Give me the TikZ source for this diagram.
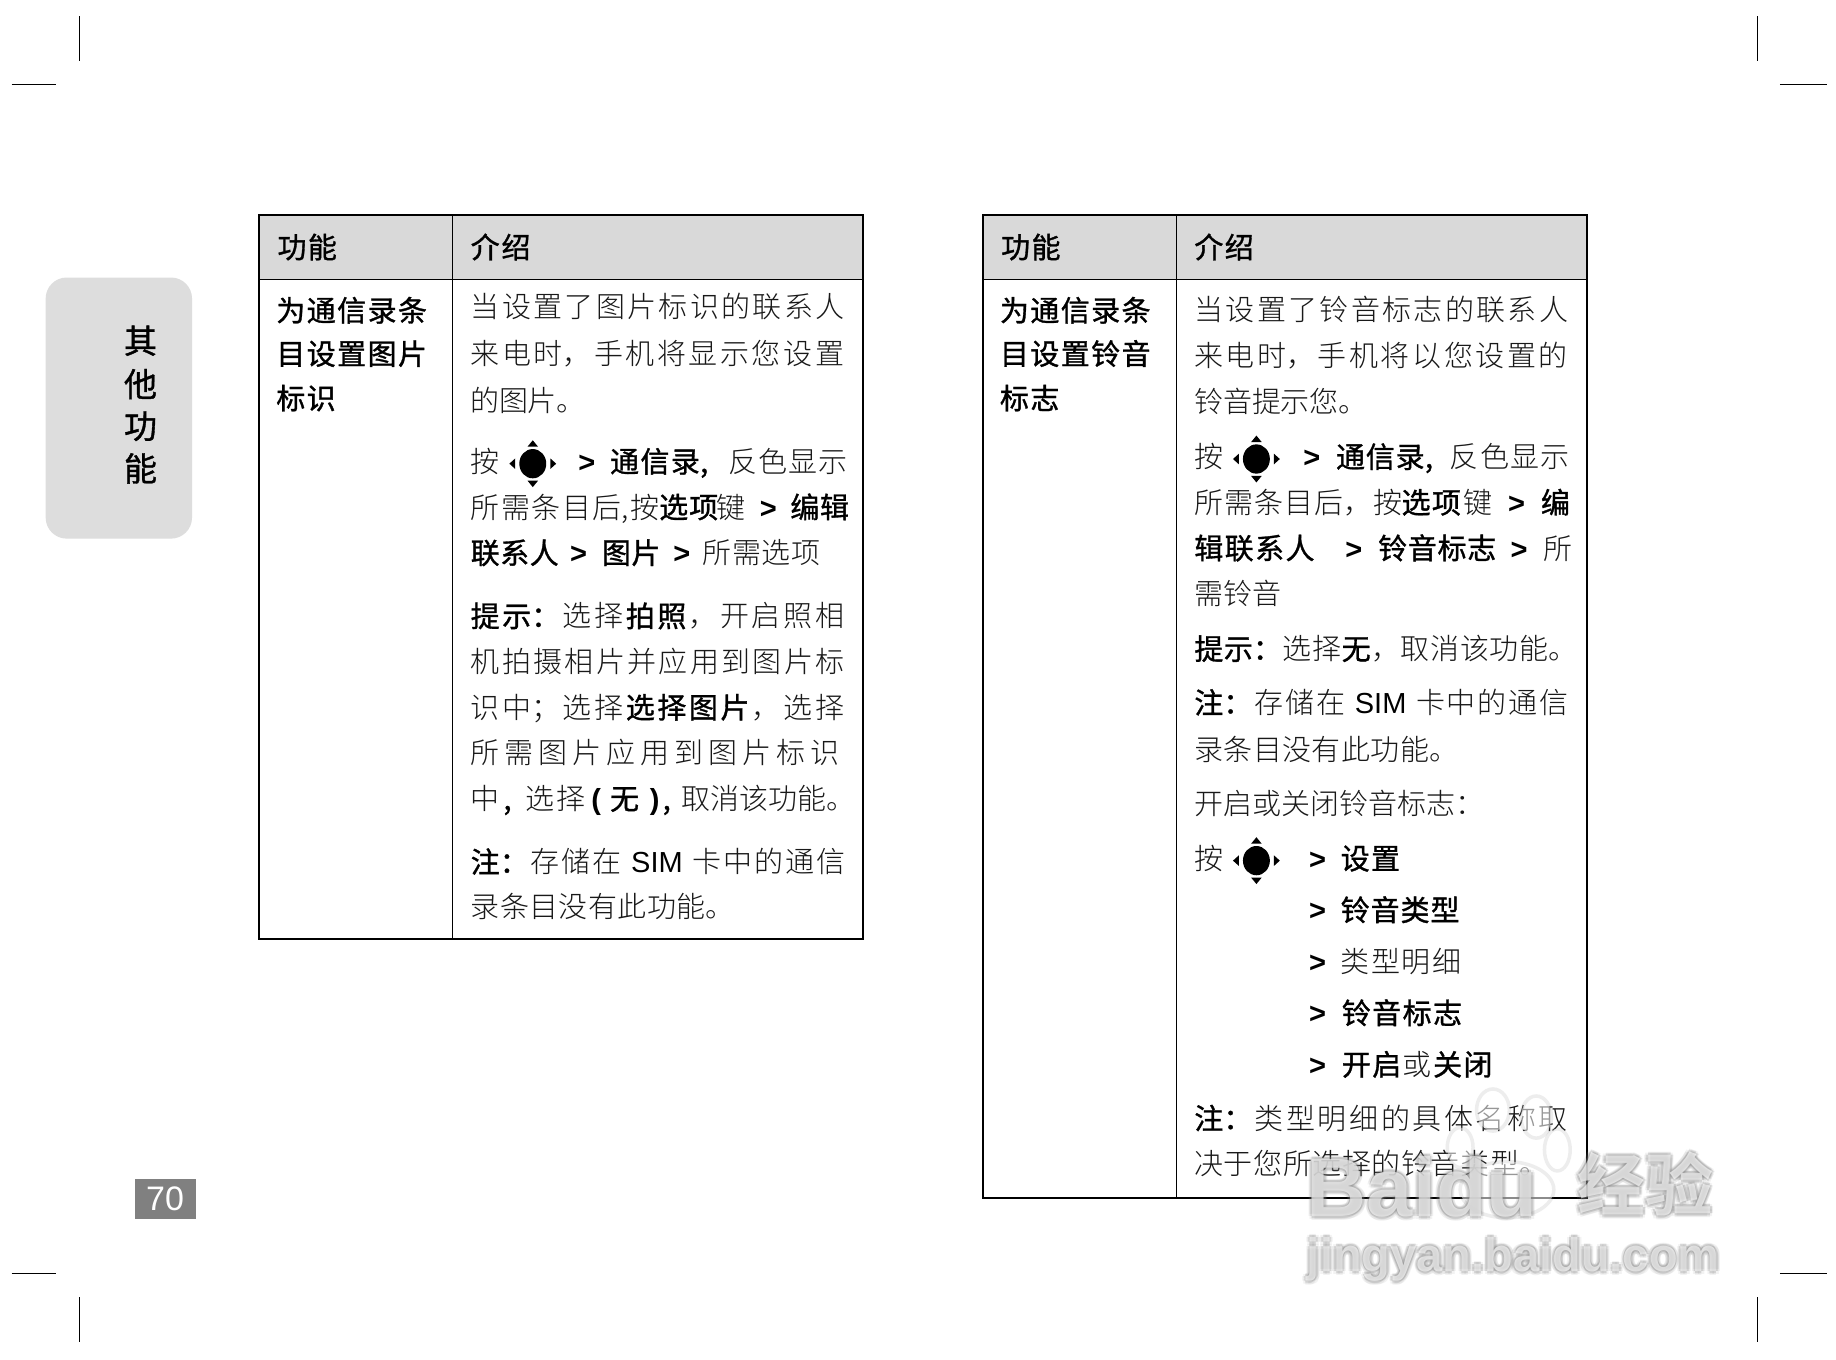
\documentclass[tikz,border=0pt]{standalone}
\usepackage{fontspec}
\setmainfont{Noto Sans CJK SC Light}[BoldFont={Noto Sans CJK SC},BoldFeatures={FakeBold=1.1}]
\newfontfamily\wmfont{Liberation Sans}[BoldFont={Liberation Sans Bold}]
\newfontfamily\wmcjk{Noto Sans CJK SC}[BoldFont={Noto Sans CJK SC Bold}]
\XeTeXlinebreaklocale "zh"
\XeTeXlinebreakskip=0pt plus 30pt minus 2pt
\hbadness=10000 \hfuzz=20pt
\newcounter{lnc}
\newcommand{\Bo}[1]{{\bfseries\color{black}#1}}
\newcommand{\Gt}{{\wmfont\bfseries\color{black}>}}
\newcommand{\Sm}[1]{{\wmfont\color{black}#1}}
\newcommand{\G}{\hskip 0pt plus 30pt minus 2pt\relax}
\definecolor{bodyc}{gray}{0.1}
\definecolor{headc}{gray}{0.85}
\definecolor{tabc}{gray}{0.865}
\tikzset{
  linetext/.style={inner sep=0pt,outer sep=0pt,anchor=base west,font=\fontsize{29}{33}\selectfont,text=bodyc},
  tline/.style={line width=2pt,draw=black},
  iline/.style={line width=1pt,draw=black},
  crop/.style={line width=1pt,draw=black},
  keytri/.style={fill=black,draw=none},
  wmouter/.style={inner sep=0pt,anchor=base west,text=black!50,text opacity=.10},
  wmshade/.style={inner sep=0pt,anchor=base west,text=black!50,text opacity=.20},
  wmtop/.style={inner sep=0pt,anchor=base west,text=white,text opacity=.62},
  pawo/.style={draw=black!50,draw opacity=.14,line width=3.5pt,fill=white,fill opacity=.55}
}
% x = left, y = centre of the line, x2 = right end, all in shown units
\newcommand{\LN}[4]{\stepcounter{lnc}\node[linetext,text width=\dimexpr(#3pt - #1pt + 3pt)*1171/1000\relax] (ln\arabic{lnc}) at (#1,#2+9.4) {\noindent\parfillskip=0pt\relax #4\par};}
\newcommand{\KeyIcon}[2]{%
  \fill[keytri] (#1,#2) ellipse [x radius=11.5,y radius=12.5];
  \fill[keytri] (#1-4.5,#2-14.5) -- (#1+4.5,#2-14.5) -- (#1,#2-20) -- cycle;
  \fill[keytri] (#1-4.5,#2+14.5) -- (#1+4.5,#2+14.5) -- (#1,#2+20) -- cycle;
  \fill[keytri] (#1-15,#2-4.5) -- (#1-15,#2+4.5) -- (#1-20,#2) -- cycle;
  \fill[keytri] (#1+15,#2-4.5) -- (#1+15,#2+4.5) -- (#1+20,#2) -- cycle;}
\newcommand{\WMtext}[4]{%
  \foreach \dx/\dy in {-3/0,3/0,0/-3,0/3,-2.1/-2.1,2.1/2.1,-2.1/2.1,2.1/-2.1}
    {\node[wmouter,font=\fontsize{#3}{#3}\selectfont] at (#1+\dx,#2+\dy) {#4};}
  \foreach \dx/\dy in {-1.5/0,1.5/0,0/-1.5,0/1.5}
    {\node[wmshade,font=\fontsize{#3}{#3}\selectfont] at (#1+\dx,#2+\dy) {#4};}
  \node[wmtop,font=\fontsize{#3}{#3}\selectfont] at (#1,#2) {#4};}
\begin{document}
\begin{tikzpicture}[x=1.17092pt,y=-1.17092pt]
\useasboundingbox (0,0) rectangle (1568,1161.4);
\fill[white] (0,0) rectangle (1568,1161.4);
% crop marks
\draw[crop] (68,14) -- (68,52);
\draw[crop] (10,72) -- (48,72);
\draw[crop] (1501,14) -- (1501,52);
\draw[crop] (1520,72) -- (1560,72);
\draw[crop] (10,1088) -- (48,1088);
\draw[crop] (68,1108) -- (68,1146);
\draw[crop] (1520,1088) -- (1560,1088);
\draw[crop] (1501,1108) -- (1501,1146);
% side tab
\fill[tabc,rounded corners=21pt] (39,237) rectangle (164,460);
\foreach \ch/\yy in {其/291,他/328,功/364,能/400}
  {\node[inner sep=0pt,font=\bfseries\fontsize{33}{33}\selectfont] at (120,\yy) {\ch};}
% page number
\fill[black!50] (115,1007) rectangle (167,1041);
\node[inner sep=0pt,text=white,font=\wmfont\fontsize{34}{34}\selectfont] (pageno) at (141,1023.5) {70};
% left table
\fill[headc] (221.5,183.5) rectangle (737,238.5);
\draw[iline] (386.5,183.5) -- (386.5,801.5);
\draw[iline] (221.5,238.5) -- (737,238.5);
\draw[tline] (221.5,183.5) rectangle (737,801.5);
% right table
\fill[headc] (839.5,183.5) rectangle (1355.5,238.5);
\draw[iline] (1004.5,183.5) -- (1004.5,1023.5);
\draw[iline] (839.5,238.5) -- (1355.5,238.5);
\draw[tline] (839.5,183.5) rectangle (1355.5,1023.5);
% left table text
\LN{237}{211}{287}{\Bo{功能}}
\LN{402}{211}{453}{\Bo{介绍}}
\LN{236}{265}{364}{\Bo{为通信录条}}
\LN{236}{302}{364}{\Bo{目设置图片}}
\LN{236}{340}{286}{\Bo{标识}}
\LN{402}{262}{722}{当设置了图片标识的联系人}
\LN{402}{302}{722}{来电时，手机将显示您设置}
\LN{402}{342}{497}{的图片。}
\LN{402}{394}{427}{按}
\KeyIcon{455}{396}
\LN{494}{394}{508}{\Gt}
\LN{521}{394}{597}{\Bo{通信录}}
\LN{598}{394}{606}{\Bo{,}}
\LN{622}{394}{723}{反色显示}
\LN{402}{433}{563}{所需条目后,\G 按}
\LN{563}{433}{612}{\Bo{选项}}
\LN{612}{433}{637}{键}
\LN{649}{433}{663}{\Gt}
\LN{675}{433}{723}{\Bo{编辑}}
\LN{402}{472}{475}{\Bo{联系人}}
\LN{487}{472}{501}{\Gt}
\LN{514}{472}{562}{\Bo{图片}}
\LN{575}{472}{589}{\Gt}
\LN{600}{472}{699}{所需选项}
\LN{402}{526}{722}{\Bo{提示：}\G 选择\G\Bo{拍照}\G，开启照相}
\LN{402}{565}{722}{机拍摄相片并应用到图片标}
\LN{402}{604}{722}{识中；选择\G\Bo{选择图片}\G，选择}
\LN{402}{643}{722}{所需图片应用到图片标识}
\LN{402}{682}{427}{中}
\LN{430}{682}{438}{\Bo{,}}
\LN{449}{682}{499}{选择}
\LN{505}{682}{513}{\Bo{\wmfont (}}
\LN{521}{682}{546}{\Bo{无}}
\LN{555}{682}{563}{\Bo{\wmfont )}}
\LN{566}{682}{574}{\Bo{,}}
\LN{582}{682}{728}{取消该功能。}
\LN{402}{736}{722}{\Bo{注：}\G 存储在 \Sm{SIM} 卡中的通信}
\LN{402}{774}{625}{录条目没有此功能。}
% right table text
\LN{855}{211}{905}{\Bo{功能}}
\LN{1020}{211}{1070}{\Bo{介绍}}
\LN{854}{265}{982}{\Bo{为通信录条}}
\LN{854}{302}{982}{\Bo{目设置铃音}}
\LN{854}{340}{904}{\Bo{标志}}
\LN{1020}{264}{1340}{当设置了铃音标志的联系人}
\LN{1020}{304}{1340}{来电时，手机将以您设置的}
\LN{1020}{343}{1165}{铃音提示您。}
\LN{1020}{390}{1045}{按}
\KeyIcon{1073}{392}
\LN{1113}{390}{1127}{\Gt}
\LN{1141}{390}{1215}{\Bo{通信录}}
\LN{1217}{390}{1225}{\Bo{,}}
\LN{1238}{390}{1340}{反色显示}
\LN{1020}{429}{1197}{所需条目后，按}
\LN{1197}{429}{1247}{\Bo{选项}}
\LN{1250}{429}{1274}{键}
\LN{1288}{429}{1302}{\Gt}
\LN{1316}{429}{1340}{\Bo{编}}
\LN{1020}{468}{1122}{\Bo{辑联系人}}
\LN{1149}{468}{1163}{\Gt}
\LN{1177}{468}{1276}{\Bo{铃音标志}}
\LN{1290}{468}{1304}{\Gt}
\LN{1318}{468}{1342}{所}
\LN{1020}{507}{1092}{需铃音}
\LN{1020}{554}{1345}{\Bo{提示：}\G 选择\G\Bo{无}\G，取消该功能。}
\LN{1020}{600}{1340}{\Bo{注：}\G 存储在 \Sm{SIM} 卡中的通信}
\LN{1020}{640}{1243}{录条目没有此功能。}
\LN{1020}{686}{1265}{开启或关闭铃音标志：}
\LN{1020}{733}{1045}{按}
\KeyIcon{1073}{735}
\LN{1118}{733}{1132}{\Gt}
\LN{1145}{733}{1195}{\Bo{设置}}
\LN{1118}{777}{1132}{\Gt}
\LN{1145}{777}{1245}{\Bo{铃音类型}}
\LN{1118}{821}{1132}{\Gt}
\LN{1145}{821}{1248}{类型明细}
\LN{1118}{865}{1132}{\Gt}
\LN{1146}{865}{1248}{\Bo{铃音标志}}
\LN{1118}{909}{1132}{\Gt}
\LN{1146}{909}{1274}{\Bo{开启}\G 或\G\Bo{关闭}}
\LN{1020}{955}{1340}{\Bo{注：}\G 类型明细的具体名称取}
\LN{1020}{994}{1320}{决于您所选择的铃音类型。}
% watermark
\path[pawo] (1275,948) ellipse [x radius=14,y radius=18];
\path[pawo] (1312,954) ellipse [x radius=13,y radius=18];
\path[pawo] (1330,982) ellipse [x radius=11,y radius=18];
\path[pawo] (1247,980) ellipse [x radius=11,y radius=17];
\path[pawo] (1287,1016) ellipse [x radius=40,y radius=24];
\WMtext{1116}{1039}{83}{\wmfont\bfseries Baidu}
\WMtext{1347}{1034}{68}{\wmcjk\bfseries 经验}
\WMtext{1116}{1086}{47}{\wmfont\bfseries jingyan.baidu.com}
\end{tikzpicture}
\end{document}
